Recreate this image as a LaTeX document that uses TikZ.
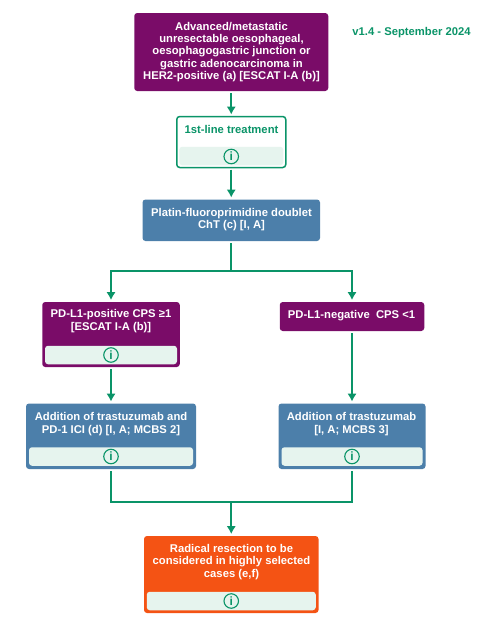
\documentclass[tikz,border=0pt]{standalone}
\usepackage{fontspec}
\setmainfont{Liberation Sans}
\usetikzlibrary{arrows.meta}
\definecolor{flowgreen}{HTML}{0A9468}
\definecolor{stripgreen}{HTML}{E6F4EE}
\definecolor{boxpurple}{HTML}{7A0C68}
\definecolor{boxblue}{HTML}{4C7FAA}
\definecolor{boxorange}{HTML}{F45314}
\tikzset{
  box/.style={rounded corners=3pt,inner sep=0pt,outer sep=0pt},
  boxtext/.style={inner sep=0pt,align=center,text=white,font=\fontsize{11.25}{12.25}\selectfont\bfseries},
  strip/.style={rounded corners=3pt,inner sep=0pt,fill=stripgreen,minimum height=18.5pt},
  infomark/.style={circle,draw=flowgreen,line width=1.1pt,inner sep=0pt,minimum size=14.5pt,text=flowgreen,font=\fontsize{12}{12}\selectfont\bfseries},
  flow/.style={draw=flowgreen,line width=1.6pt,-{Latex[length=8pt,width=9.5pt]},shorten <=2pt,shorten >=2pt},
  plainflow/.style={draw=flowgreen,line width=1.6pt}
}
\begin{document}
\begin{tikzpicture}[x=1pt,y=-1pt]
  \useasboundingbox (0,0) rectangle (499,629);
  % Start
  \node[box,fill=boxpurple,minimum width=194pt,minimum height=78pt] (start) at (231.25,52) {};
  \node[boxtext] (starttext) at (231.5,52) {Advanced/metastatic\\unresectable oesophageal,\\oesophagogastric junction or\\gastric adenocarcinoma in\\HER2-positive (a) [ESCAT I-A (b)]};
  \node[text=flowgreen,inner sep=0pt,font=\fontsize{11.25}{12.25}\selectfont\bfseries] (version) at (411.5,33) {v1.4 - September 2024};
  % 1st line
  \node[box,draw=flowgreen,line width=1.5pt,fill=white,minimum width=109pt,minimum height=51pt] (firstline) at (231.25,142) {};
  \node[boxtext,text=flowgreen] (firstlinetext) at (231.5,129.5) {1st-line treatment};
  \node[strip,minimum width=104pt] (firstlinestrip) at (231.25,156) {};
  \node[infomark] (firstlineinfo) at (231.25,156.5) {i};
  % Doublet
  \node[box,fill=boxblue,minimum width=177.5pt,minimum height=41.5pt] (doublet) at (231.25,220.25) {};
  \node[boxtext] (doublettext) at (231.5,219.5) {Platin-fluoroprimidine doublet\\ChT (c) [I, A]};
  % PD-L1 positive
  \node[box,fill=boxpurple,minimum width=137.5pt,minimum height=65pt] (positive) at (111,334.5) {};
  \node[boxtext] (positivetext) at (111,321) {PD-L1-positive CPS ≥1\\{}[ESCAT I-A (b)]};
  \node[strip,minimum width=132pt] (positivestrip) at (111,355) {};
  \node[infomark] (positiveinfo) at (111,355) {i};
  % PD-L1 negative
  \node[box,fill=boxpurple,minimum width=144.5pt,minimum height=29pt] (negative) at (352,316.5) {};
  \node[boxtext] (negativetext) at (351.5,316) {PD-L1-negative\ \ CPS <1};
  % Additions
  \node[box,fill=boxblue,minimum width=170pt,minimum height=65.5pt] (addleft) at (111,436.25) {};
  \node[boxtext] (addlefttext) at (111,424) {Addition of trastuzumab and\\PD-1 ICI (d) [I, A; MCBS 2]};
  \node[strip,minimum width=164pt] (addleftstrip) at (111,456.5) {};
  \node[infomark] (addleftinfo) at (111,456.5) {i};
  \node[box,fill=boxblue,minimum width=147pt,minimum height=65.5pt] (addright) at (352,436.25) {};
  \node[boxtext] (addrighttext) at (351.5,424) {Addition of trastuzumab\\{}[I, A; MCBS 3]};
  \node[strip,minimum width=141pt] (addrightstrip) at (352,456.5) {};
  \node[infomark] (addrightinfo) at (352,456.5) {i};
  % Resection
  \node[box,fill=boxorange,minimum width=174.5pt,minimum height=77pt] (resection) at (231.25,574.5) {};
  \node[boxtext] (resectiontext) at (231.5,562) {Radical resection to be\\considered in highly selected\\cases (e,f)};
  \node[strip,minimum width=169pt] (resectionstrip) at (231.25,601) {};
  \node[infomark] (resectioninfo) at (231.25,601) {i};
  % Connectors
  \coordinate (split) at (231.25,271);
  \coordinate (join) at (231.25,502);
  \draw[flow] (start) -- (firstline);
  \draw[flow] (firstline) -- (doublet);
  \draw[plainflow,shorten <=2pt] (doublet) -- (split);
  \draw[flow,shorten <=0pt] (split) -| (positive);
  \draw[flow,shorten <=0pt] (split) -| (negative);
  \draw[flow] (positive) -- (addleft);
  \draw[flow] (negative) -- (addright);
  \draw[plainflow,shorten <=2pt] (addleft) |- (join);
  \draw[plainflow,shorten <=2pt] (addright) |- (join);
  \draw[flow,shorten <=0pt] (join) -- (resection);
\end{tikzpicture}
\end{document}
